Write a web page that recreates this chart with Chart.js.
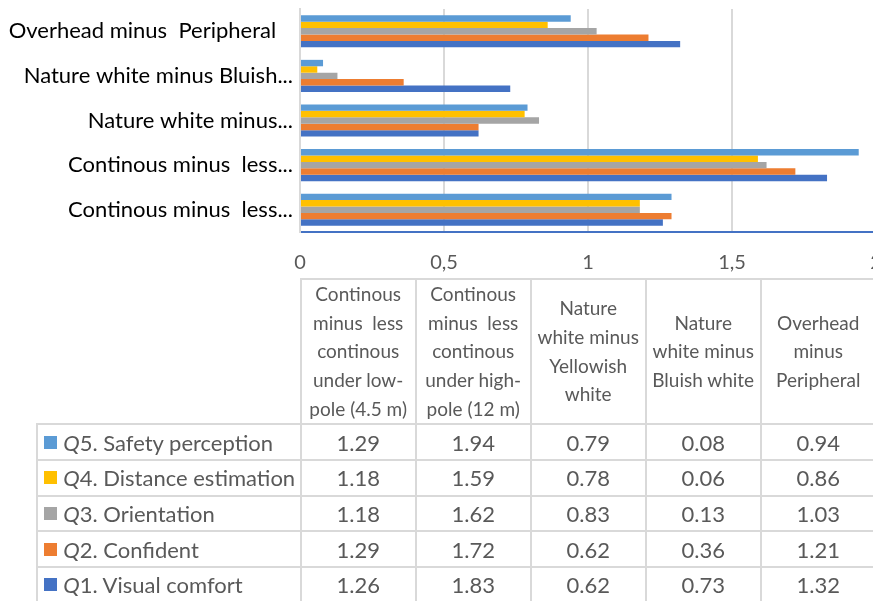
<!DOCTYPE html>
<html>
<head>
<meta charset="utf-8">
<script src="https://cdn.jsdelivr.net/npm/chart.js@4.4.1/dist/chart.umd.min.js"></script>
<style>
  html, body { margin: 0; padding: 0; background: #ffffff; }
  body { width: 873px; height: 601px; overflow: hidden; position: relative; }
  #chartBox { position: absolute; left: 0; top: 0; width: 890px; height: 278px; }
  #table { position: absolute; left: 0; top: 0; width: 873px; height: 601px; }
  .cell {
    position: absolute; box-sizing: border-box; border: 2px solid #d9d9d9;
    display: flex; align-items: center; justify-content: center; text-align: center;
    font-family: Lato, "Open Sans", sans-serif; color: #595959;
  }
  .head { font-size: 19px; line-height: 28.7px; flex-direction: column; }
  .val { font-size: 22px; }
  .lab { font-size: 22px; justify-content: flex-start; padding-left: 6px; white-space: nowrap; }
  .lab .sw { display: inline-block; width: 13px; height: 13px; margin-right: 6px; }
  .lab i { font-style: italic; }
</style>
</head>
<body>
<div id="chartBox"><canvas id="c" width="890" height="278"></canvas></div>
<div id="table"></div>
<script>
// Lighting comparisons (full names) and the shortened axis labels shown beside the bars
const categories = [
  'Continous minus  less continous under low-pole (4.5 m)',
  'Continous minus  less continous under high-pole (12 m)',
  'Nature white minus Yellowish white',
  'Nature white minus Bluish white',
  'Overhead minus Peripheral'
];
const axisLabels = [
  'Continous minus  less...',
  'Continous minus  less...',
  'Nature white minus...',
  'Nature white minus Bluish...',
  'Overhead minus  Peripheral   '
];
// Header text of the data table, line by line
const headerLines = [
  ['Continous', 'minus  less', 'continous', 'under low-', 'pole (4.5 m)'],
  ['Continous', 'minus  less', 'continous', 'under high-', 'pole (12 m)'],
  ['Nature', 'white minus', 'Yellowish', 'white'],
  ['Nature', 'white minus', 'Bluish white'],
  ['Overhead', 'minus', 'Peripheral']
];

// Mean differences per question
const q1 = [1.26, 1.83, 0.62, 0.73, 1.32]; // Visual comfort
const q2 = [1.29, 1.72, 0.62, 0.36, 1.21]; // Confident
const q3 = [1.18, 1.62, 0.83, 0.13, 1.03]; // Orientation
const q4 = [1.18, 1.59, 0.78, 0.06, 0.86]; // Distance estimation
const q5 = [1.29, 1.94, 0.79, 0.08, 0.94]; // Safety perception

const seriesNames = ['Q5. Safety perception', 'Q4. Distance estimation', 'Q3. Orientation', 'Q2. Confident', 'Q1. Visual comfort'];
const seriesValues = [q5, q4, q3, q2, q1];
const seriesColors = ['#5B9BD5', '#FFC000', '#A5A5A5', '#ED7D31', '#4472C4'];

const xTicks = [0, 0.5, 1, 1.5, 2];

const datasets = seriesNames.map((name, i) => ({
  label: name,
  data: seriesValues[i],
  backgroundColor: seriesColors[i],
  borderWidth: 0,
  categoryPercentage: 0.72,
  barPercentage: 1.0
}));

new Chart(document.getElementById('c'), {
  type: 'bar',
  data: { labels: axisLabels, datasets },
  options: {
    indexAxis: 'y',
    responsive: false,
    animation: false,
    layout: { padding: { top: 9, right: 14, left: 0, bottom: 0 } },
    plugins: { legend: { display: false }, tooltip: { enabled: false } },
    scales: {
      x: {
        min: xTicks[0],
        max: xTicks[xTicks.length - 1],
        afterFit: s => { s.height = 46; s.paddingLeft = 0; s.paddingRight = 0; },
        afterBuildTicks: s => { s.ticks = xTicks.map(v => ({ value: v })); },
        ticks: {
          padding: 19,
          color: '#595959',
          font: { family: 'Lato', size: 20 },
          callback: v => String(v).replace('.', ',')
        },
        grid: { color: '#d9d9d9', lineWidth: 2, drawTicks: false },
        border: { color: '#4472C4', width: 2 }
      },
      y: {
        reverse: true,
        afterFit: s => { s.width = 300; s.paddingTop = 0; s.paddingBottom = 0; },
        ticks: {
          autoSkip: false,
          padding: 7,
          color: '#000000',
          font: { family: 'Lato', size: 22 }
        },
        grid: { display: false, drawTicks: false },
        border: { color: '#d9d9d9', width: 2 }
      }
    }
  }
});

// Data table below the chart
const colX = [37.3, 300.7, 415.7, 530.7, 645.7, 760.7, 875.7];
const rowY = [279, 424.3, 460, 495.7, 531.4, 567.1, 602.8];
const table = document.getElementById('table');

function addCell(ci, ri, cls) {
  const d = document.createElement('div');
  d.className = 'cell ' + cls;
  d.style.left = (colX[ci] - 1) + 'px';
  d.style.top = (rowY[ri] - 1) + 'px';
  d.style.width = (colX[ci + 1] - colX[ci] + 2) + 'px';
  d.style.height = (rowY[ri + 1] - rowY[ri] + 2) + 'px';
  table.appendChild(d);
  return d;
}

headerLines.forEach((lines, c) => {
  const d = addCell(c + 1, 0, 'head');
  lines.forEach(t => {
    const s = document.createElement('div');
    s.style.whiteSpace = 'pre';
    s.textContent = t;
    d.appendChild(s);
  });
});

seriesNames.forEach((name, r) => {
  const lab = addCell(0, r + 1, 'lab');
  const sw = document.createElement('span');
  sw.className = 'sw';
  sw.style.background = seriesColors[r];
  lab.appendChild(sw);
  const q = document.createElement('i');
  q.textContent = name.charAt(0);
  lab.appendChild(q);
  lab.appendChild(document.createTextNode(name.slice(1)));
  seriesValues[r].forEach((v, c) => {
    const d = addCell(c + 1, r + 1, 'val');
    d.textContent = v.toFixed(2);
  });
});
</script>
</body>
</html>
